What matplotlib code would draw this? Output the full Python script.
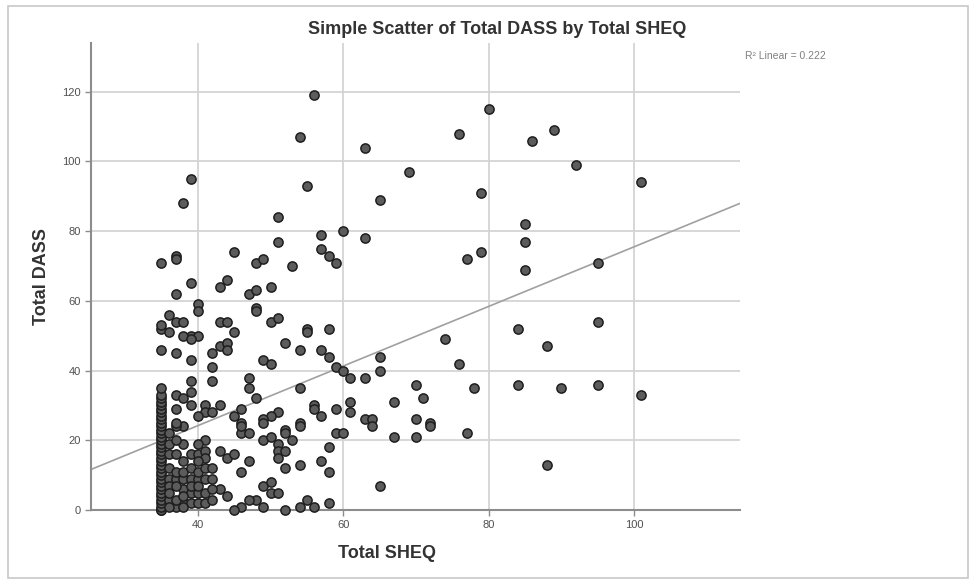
'''Simple scatter of Total DASS by Total SHEQ, SPSS look, with the linear fit line.'''

import matplotlib
matplotlib.use('Agg')
from matplotlib import pyplot as plt
from matplotlib.patches import Rectangle

TITLE = 'Simple Scatter of Total DASS by Total SHEQ'
X_LABEL = 'Total SHEQ'
Y_LABEL = 'Total DASS'
R2_TEXT = 'R\u00b2 Linear = 0.222'

x_ticks = [40, 60, 80, 100]
y_ticks = [0, 20, 40, 60, 80, 100, 120]

# fit line as it reads off the picture (DASS = intercept + slope * SHEQ)
fit_intercept = -10.0
fit_slope = 0.855

# the stacked column at SHEQ = 35
dass_35 = [0, 0, 1, 2, 3, 4, 5, 6, 7, 8, 9, 10, 11, 12, 13, 14, 15, 16, 17,
           18, 19, 20, 21, 22, 23, 24, 25, 26, 27, 28, 29, 30, 31, 32, 33, 35,
           46, 52, 53, 71]

# SHEQ 36 - 45
sheq_left = [37, 37, 39, 37, 40, 40, 36, 36, 37, 38, 39, 38, 40, 43, 44, 45,
             37, 39, 39, 42, 43, 44, 44, 42, 42, 39, 39, 37, 38, 37, 39, 41,
             41, 42, 43, 40, 38, 37, 37, 41, 36, 39, 40, 41, 41, 38, 40, 43,
             44, 45, 36, 36, 37, 38, 39, 40, 41, 42, 36, 38, 39, 40, 41, 43,
             44, 36, 38, 39, 40, 41, 37, 38, 42, 36, 36, 37, 37, 37, 38, 38,
             39, 39, 40, 40, 41, 42, 42, 37, 38, 40, 36, 36, 37, 39, 38]
dass_left = [73, 72, 65, 62, 59, 57, 56, 51, 54, 54, 50, 50, 50, 54, 54, 51,
             45, 49, 43, 45, 47, 48, 46, 41, 37, 37, 34, 33, 32, 29, 30, 30,
             28, 28, 30, 27, 24, 24, 25, 20, 16, 16, 16, 17, 15, 14, 14, 17,
             15, 16, 12, 9, 9, 9, 9, 9, 9, 9, 7, 6, 5, 5, 5, 6,
             4, 3, 2, 2, 2, 2, 1, 1, 3, 1, 5, 3, 7, 11, 4, 11,
             7, 12, 7, 11, 12, 12, 6, 16, 19, 19, 19, 22, 20, 95, 88]

# SHEQ 45 - 62
sheq_mid = [56, 54, 55, 51, 51, 57, 60, 57, 45, 58, 59, 48, 49, 53, 44, 43,
            47, 48, 50, 48, 48, 50, 51, 55, 55, 58, 52, 54, 57, 58, 49, 50,
            59, 60, 61, 47, 47, 54, 48, 46, 56, 56, 57, 59, 61, 61, 51, 50,
            49, 54, 46, 52, 49, 54, 46, 47, 49, 50, 52, 53, 51, 51, 52, 51,
            58, 59, 60, 47, 46, 52, 54, 57, 58, 49, 50, 50, 51, 48, 49, 46,
            52, 54, 55, 56, 58, 45, 47, 45, 46]
dass_mid = [119, 107, 93, 84, 77, 79, 80, 75, 74, 73, 71, 71, 72, 70, 66, 64,
            62, 63, 64, 58, 57, 54, 55, 52, 51, 52, 48, 46, 46, 44, 43, 42,
            41, 40, 38, 38, 35, 35, 32, 29, 30, 29, 27, 29, 31, 28, 28, 27,
            26, 25, 25, 23, 25, 24, 22, 22, 20, 21, 22, 20, 19, 17, 17, 15,
            18, 22, 22, 14, 11, 12, 13, 14, 11, 7, 8, 5, 5, 3, 1, 1,
            0, 1, 3, 1, 2, 0, 3, 27, 24]

# SHEQ 63 and above
sheq_right = [63, 76, 80, 89, 86, 92, 69, 101, 79, 65, 85, 85, 63, 79, 77, 95,
              85, 95, 84, 88, 74, 65, 65, 63, 76, 70, 78, 84, 90, 95, 101, 67,
              71, 63, 64, 64, 70, 72, 72, 67, 70, 77, 88, 65]
dass_right = [104, 108, 115, 109, 106, 99, 97, 94, 91, 89, 82, 77, 78, 74, 72, 71,
              69, 54, 52, 47, 49, 44, 40, 38, 42, 36, 35, 36, 35, 36, 33, 31,
              32, 26, 26, 24, 26, 25, 24, 21, 21, 22, 13, 7]


def main():
    plt.rcParams['font.family'] = ['Liberation Sans', 'DejaVu Sans']

    fig = plt.figure(figsize=(9.76, 5.85), dpi=100)
    ax = fig.add_axes([91 / 976, 1 - 510 / 585, 649 / 976, 467 / 585])

    sheq = [35] * len(dass_35) + sheq_left + sheq_mid + sheq_right
    dass = dass_35 + dass_left + dass_mid + dass_right

    ax.set_xlim(25.3, 114.6)
    ax.set_ylim(0, 134)

    ax.grid(True, color='#d4d4d4', linewidth=1.3)
    ax.set_axisbelow(True)

    ax.axline((0, fit_intercept), slope=fit_slope, color='#a0a0a0',
              linewidth=1.2, zorder=2)

    ax.scatter(sheq, dass, s=44, facecolor='#5c5c5c', edgecolor='#1e1e1e',
               linewidth=1.1, zorder=3, clip_on=False)

    ax.set_xticks(x_ticks)
    ax.set_yticks(y_ticks)
    ax.tick_params(colors='#8c8c8c', labelcolor='#505050', labelsize=8,
                   length=4, width=1)

    for side in ('top', 'right'):
        ax.spines[side].set_visible(False)
    for side in ('left', 'bottom'):
        ax.spines[side].set_color('#8c8c8c')
        ax.spines[side].set_linewidth(1.5)

    ax.set_xlabel(X_LABEL, fontsize=13, fontweight='bold', color='#333333')
    ax.set_ylabel(Y_LABEL, fontsize=13, fontweight='bold', color='#333333')
    ax.xaxis.set_label_coords((387 - 91) / 649, -(553 - 510) / 467)
    ax.yaxis.set_label_coords(-(91 - 41) / 649, 0.5)
    ax.xaxis.label.set_va('center')
    ax.yaxis.label.set_va('center')

    fig.text(497 / 976, 1 - 30 / 585, TITLE, ha='center', va='center',
             fontsize=13, fontweight='bold', color='#333333')
    fig.text(745 / 976, 1 - 56 / 585, R2_TEXT, ha='left', va='center',
             fontsize=7.5, color='#808080')

    fig.patches.append(Rectangle((0.008, 0.012), 0.984, 0.978,
                                 transform=fig.transFigure, fill=False,
                                 edgecolor='#c8c8c8', linewidth=1.2))

    fig.savefig('out.png', dpi=100)


if __name__ == '__main__':
    main()
